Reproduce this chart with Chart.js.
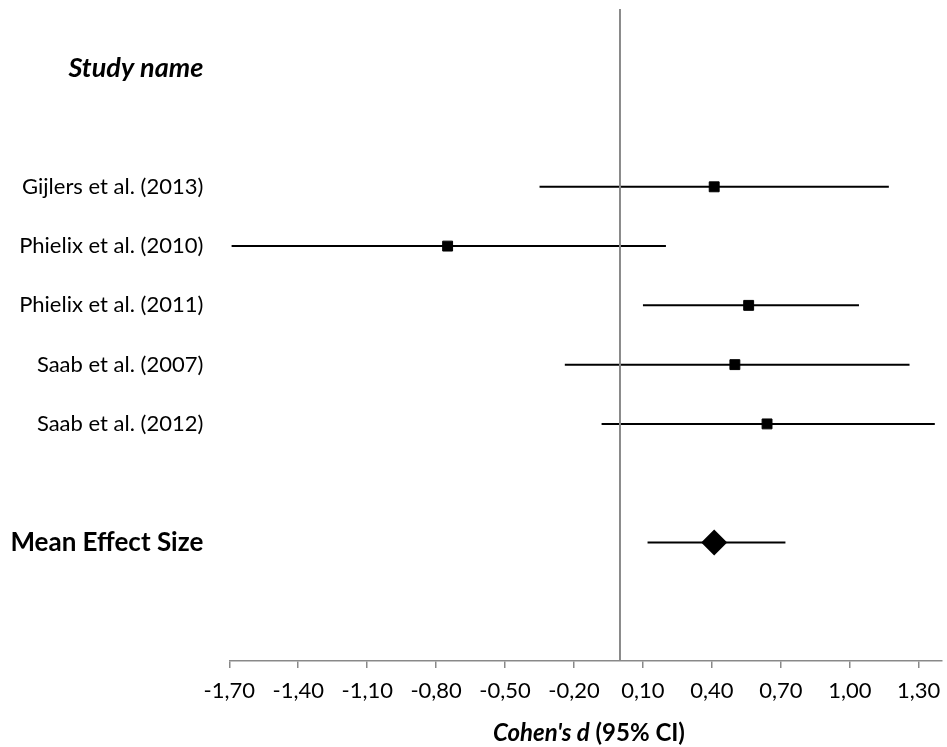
<!DOCTYPE html>
<html>
<head>
<meta charset="utf-8">
<script src="https://cdn.jsdelivr.net/npm/chart.js@4"></script>
<style>
  html, body { margin: 0; padding: 0; background: #ffffff; }
  #wrap { width: 947px; height: 747px; }
</style>
</head>
<body>
<div id="wrap"><canvas id="c" width="947" height="747"></canvas></div>
<script>
// ---- data ----
const studies = ["Gijlers et al. (2013)", "Phielix et al. (2010)", "Phielix et al. (2011)", "Saab et al. (2007)", "Saab et al. (2012)"];
const effectSizes = [0.41, -0.75, 0.56, 0.50, 0.64];
const ciLow = [-0.35, -1.69, 0.10, -0.24, -0.08];
const ciHigh = [1.17, 0.20, 1.04, 1.26, 1.37];
const meanLabel = "Mean Effect Size";
const meanEffect = [0.41];
const meanLow = [0.12];
const meanHigh = [0.72];
const headerLabel = "Study name";
const xTicks = [-1.70, -1.40, -1.10, -0.80, -0.50, -0.20, 0.10, 0.40, 0.70, 1.00, 1.30];

// ---- row slots (layout) ----
const FONT = "Lato, 'Open Sans', sans-serif";
const headerSlot = 1;
const studySlot = i => i + 3;
const meanSlot = studies.length + 4;
const slotLabels = {};
slotLabels[headerSlot] = headerLabel;
studies.forEach((s, i) => { slotLabels[studySlot(i)] = s; });
slotLabels[meanSlot] = meanLabel;

const datasets = [];
datasets.push({
  type: 'scatter', label: 'studies',
  data: studies.map((s, i) => ({ x: effectSizes[i], y: studySlot(i) })),
  pointStyle: 'rect', pointRadius: 7, pointBorderWidth: 1,
  backgroundColor: '#000', borderColor: '#000', showLine: false
});
datasets.push({
  type: 'scatter', label: 'mean',
  data: meanEffect.map(v => ({ x: v, y: meanSlot })),
  pointStyle: 'rectRot', pointRadius: 13, pointBorderWidth: 0,
  backgroundColor: '#000', borderColor: '#000', showLine: false
});
datasets.push({
  type: 'line', label: 'zero',
  data: [{ x: 0, y: 0 }, { x: 0, y: 11 }],
  borderColor: '#898989', borderWidth: 2, pointRadius: 0, fill: false
});
studies.forEach((s, i) => {
  datasets.push({
    type: 'line', label: s,
    data: [{ x: ciLow[i], y: studySlot(i) }, { x: ciHigh[i], y: studySlot(i) }],
    borderColor: '#000', borderWidth: 2, pointRadius: 0, fill: false
  });
});
datasets.push({
  type: 'line', label: 'meanCI',
  data: [{ x: meanLow[0], y: meanSlot }, { x: meanHigh[0], y: meanSlot }],
  borderColor: '#000', borderWidth: 2, pointRadius: 0, fill: false
});

const titlePlugin = {
  id: 'xTitle',
  afterDraw(chart) {
    const ctx = chart.ctx;
    ctx.save();
    ctx.fillStyle = '#000';
    ctx.textBaseline = 'middle';
    const f1 = "italic bold 24px " + FONT;
    const f2 = "bold 24px " + FONT;
    const t1 = "Cohen's d", t2 = " (95% CI)";
    ctx.font = f1; const w1 = ctx.measureText(t1).width;
    ctx.font = f2; const w2 = ctx.measureText(t2).width;
    const cx = 589, cy = 733;
    let x = cx - (w1 + w2) / 2;
    ctx.textAlign = 'left';
    ctx.font = f1; ctx.fillText(t1, x, cy);
    ctx.font = f2; ctx.fillText(t2, x + w1, cy);
    ctx.restore();
  }
};

function zeroPad(s) { s.paddingTop = 0; s.paddingBottom = 0; s.paddingLeft = 0; s.paddingRight = 0; }

new Chart(document.getElementById('c'), {
  data: { datasets },
  plugins: [titlePlugin],
  options: {
    responsive: false,
    animation: false,
    devicePixelRatio: 1,
    layout: { autoPadding: false, padding: { top: 9, right: 5.3, left: 0, bottom: 0 } },
    plugins: { legend: { display: false }, tooltip: { enabled: false }, title: { display: false } },
    scales: {
      x: {
        type: 'linear', min: -1.7, max: 1.4,
        afterBuildTicks: s => { s.ticks = xTicks.map(v => ({ value: v })); },
        afterFit: s => { s.height = 86; zeroPad(s); },
        border: { display: true, color: '#898989', width: 1.5 },
        grid: { display: true, drawOnChartArea: false, drawTicks: true, tickLength: 7, color: '#898989', lineWidth: 1.5 },
        ticks: {
          color: '#000', padding: 10, maxRotation: 0, autoSkip: false,
          font: { family: FONT, size: 22 },
          callback: v => v.toFixed(2).replace('.', ',')
        }
      },
      y: {
        type: 'linear', min: 0, max: 11, reverse: true,
        afterBuildTicks: s => { s.ticks = Object.keys(slotLabels).map(k => ({ value: Number(k) })); },
        afterFit: s => { s.width = 229.3; zeroPad(s); },
        border: { display: false },
        grid: { display: false, drawTicks: false },
        ticks: {
          color: '#000', padding: 26, autoSkip: false,
          font: ctx => {
            const v = ctx.tick ? ctx.tick.value : null;
            if (v === headerSlot) return { family: FONT, size: 27, style: 'italic', weight: 'bold' };
            if (v === meanSlot) return { family: FONT, size: 26, weight: 'bold' };
            return { family: FONT, size: 22 };
          },
          callback: v => slotLabels[v] || ''
        }
      }
    }
  }
});
</script>
</body>
</html>
